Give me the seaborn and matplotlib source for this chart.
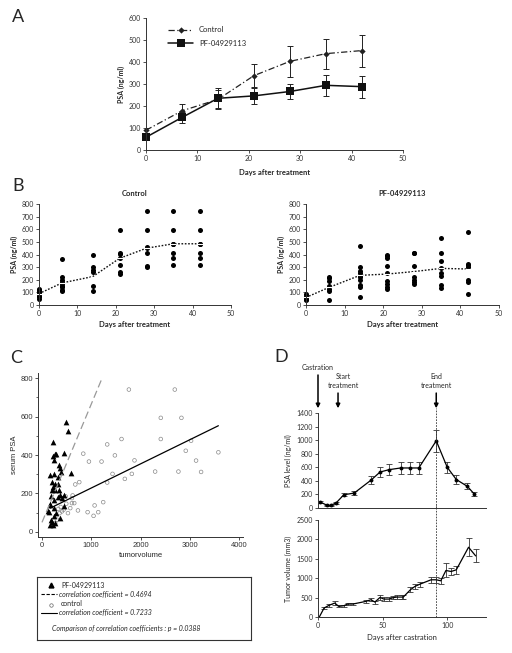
import numpy as np
import pandas as pd
import matplotlib
matplotlib.use("Agg")
import matplotlib.pyplot as plt
import seaborn as sns

sns.set_theme(style="white")
plt.rcParams["font.family"] = ["Lato", "DejaVu Sans"]

W, H = 512, 653

# ---------------- data ----------------
# A: mean PSA +/- SEM
DAYS_A = [0, 7, 14, 21, 28, 35, 42]
CTRL_MEAN = [90, 178, 230, 338, 403, 438, 452]
CTRL_ERR = [12, 30, 45, 52, 72, 68, 73]
PF_MEAN = [58, 148, 235, 246, 266, 294, 288]
PF_ERR = [12, 25, 45, 38, 35, 47, 50]

# B: individual PSA values
DAYS_B = [0, 6, 14, 21, 28, 35, 42]
CTRL_PTS = [
    [130, 120, 110, 100, 95, 85, 75, 60, 45],
    [365, 225, 200, 185, 170, 150, 140, 120, 110],
    [400, 300, 280, 260, 150, 110],
    [595, 415, 405, 370, 315, 260, 245],
    [745, 595, 460, 450, 415, 310, 300],
    [745, 595, 485, 480, 415, 370, 315],
    [745, 595, 485, 480, 415, 370, 315],
]
CTRL_TREND = [90, 175, 225, 370, 450, 485, 485]
PF_PTS = [
    [85, 70, 65, 55, 50, 45, 40],
    [220, 210, 190, 150, 130, 110, 40],
    [470, 300, 270, 250, 230, 220, 200, 155, 145, 65],
    [400, 385, 370, 310, 255, 190, 165, 140, 125],
    [415, 410, 305, 225, 200, 180, 165],
    [530, 410, 350, 290, 250, 230, 160, 135],
    [575, 325, 315, 300, 195, 185, 90],
]
PF_TREND = [60, 140, 235, 245, 265, 290, 285]

# C: tumour volume vs serum PSA
PF_VOL = [480, 520, 216, 439, 230, 257, 291, 250, 345, 372, 385, 581, 155, 236,
          318, 203, 257, 318, 216, 263, 203, 338, 358, 182, 439, 405, 318, 236,
          169, 155, 439, 236, 122, 135, 291, 372, 236, 203, 169, 216, 263, 189]
PF_PSA = [569, 526, 469, 409, 397, 403, 405, 374, 348, 331, 314, 305, 297, 300,
          288, 262, 250, 248, 236, 219, 216, 219, 190, 188, 193, 176, 184, 167,
          147, 138, 133, 124, 110, 102, 98, 72, 81, 50, 38, 38, 47, 64]
CTRL_VOL = [1764, 2696, 2412, 2831, 1615, 2412, 1324, 2919, 3027, 3581, 838,
            1480, 953, 1209, 1878, 3128, 2770, 2297, 3230, 1824, 1432, 1682,
            1324, 757, 676, 622, 1243, 1068, 1142, 926, 1047, 730, 574, 608,
            655, 493, 439, 527, 358, 405, 304, 270, 480, 608, 380, 330]
CTRL_PSA = [740, 740, 593, 593, 483, 483, 455, 422, 474, 414, 407, 398, 366,
            366, 372, 371, 314, 314, 312, 302, 302, 276, 257, 259, 247, 190,
            155, 138, 103, 103, 84, 112, 124, 150, 150, 147, 116, 98, 98, 107,
            64, 47, 185, 176, 130, 120]
FIT_PF = (0.614, 50, 0, 1216)      # slope, intercept, x from, x to
FIT_CTRL = (0.1254, 103, 169, 3581)

# D: time course after castration
DAYS_PSA = [1.5, 7, 10, 14, 20, 28, 41, 48, 55, 64, 71, 78, 91.5, 100, 107, 115.5, 121]
PSA_D = [90, 40, 40, 75, 195, 220, 410, 530, 565, 590, 590, 590, 990, 600, 420, 320, 205]
PSA_D_ERR = [10, 8, 8, 10, 25, 30, 55, 70, 80, 85, 90, 85, 160, 85, 60, 45, 25]
DAYS_VOL = [1, 4.7, 8.5, 13, 16, 20, 23, 27, 37, 41, 44, 48, 51, 55, 58, 61, 65,
            66, 71.5, 75, 79, 87.5, 91.5, 95, 99, 103, 107, 116.5, 122]
VOL_D = [0, 231, 300, 360, 274, 291, 334, 334, 402, 445, 385, 505, 462, 462,
         497, 514, 514, 514, 702, 788, 848, 959, 959, 933, 1199, 1173, 1216,
         1798, 1575]
VOL_D_ERR = [0, 20, 30, 40, 25, 25, 30, 30, 35, 40, 40, 55, 45, 45, 40, 45, 45,
             45, 60, 65, 65, 70, 70, 70, 180, 100, 100, 230, 170]
EVENTS = [(0, "Castration"), (15.5, "Start\ntreatment"), (91.5, "End\ntreatment")]


def px_axes(x0, y0, x1, y1):
    return fig.add_axes([x0 / W, 1 - y1 / H, (x1 - x0) / W, (y1 - y0) / H])


def excel_style(ax, size=5):
    sns.despine(ax=ax)
    for s in ["left", "bottom"]:
        ax.spines[s].set_color("#333333")
        ax.spines[s].set_linewidth(0.7)
    ax.tick_params(bottom=True, left=True, direction="out", length=2,
                   width=0.6, labelsize=size, pad=1.5, colors="#333333")


fig = plt.figure(figsize=(W / 100, H / 100), dpi=100)

# ---------------- A ----------------
ax = px_axes(146, 18, 403, 150)
dfa = pd.DataFrame({"day": DAYS_A, "ctrl": CTRL_MEAN, "pf": PF_MEAN})
ax.errorbar(DAYS_A, CTRL_MEAN, yerr=CTRL_ERR, fmt="none", ecolor="#222",
            elinewidth=0.7, capsize=2, capthick=0.7)
ax.errorbar(DAYS_A, PF_MEAN, yerr=PF_ERR, fmt="none", ecolor="#222",
            elinewidth=0.7, capsize=2, capthick=0.7)
sns.lineplot(data=dfa, x="day", y="ctrl", ax=ax, color="#222", lw=0.9,
             linestyle=(0, (5, 2, 1, 2)), marker="D", markersize=3.2,
             markeredgewidth=0, label="Control", clip_on=False)
sns.lineplot(data=dfa, x="day", y="pf", ax=ax, color="#111", lw=1.1,
             marker="s", markersize=5.5, markeredgewidth=0, label="PF-04929113",
             clip_on=False)
ax.set_xlim(0, 50)
ax.set_ylim(0, 600)
ax.set_xticks(range(0, 51, 10))
ax.set_yticks(range(0, 601, 100))
ax.set_xlabel("Days after treatment", fontsize=5.5, fontweight="bold", labelpad=5)
ax.set_ylabel("PSA (ng/ml)", fontsize=5, fontweight="bold", labelpad=3)
excel_style(ax)
ax.legend(loc="upper left", bbox_to_anchor=(0.06, 0.99), frameon=False,
          fontsize=5.5, handlelength=3.2, labelspacing=0.9)
fig.text(12 / W, 1 - 17 / H, "A", fontsize=13, va="center")

# ---------------- B ----------------
for (x0, x1), title, pts, trend in [((39, 231), "Control", CTRL_PTS, CTRL_TREND),
                                    ((306, 499), "PF-04929113", PF_PTS, PF_TREND)]:
    ax = px_axes(x0, 204, x1, 305)
    dfb = pd.DataFrame([(d, v) for d, vals in zip(DAYS_B, pts) for v in vals],
                       columns=["day", "psa"])
    sns.scatterplot(data=dfb, x="day", y="psa", ax=ax, color="black", s=13,
                    linewidth=0, clip_on=False)
    sns.lineplot(x=DAYS_B, y=trend, ax=ax, color="#111", lw=1.0,
                 linestyle=(0, (1.2, 1.2)), marker="_", markersize=5,
                 markeredgewidth=0.8, clip_on=False)
    ax.set_xlim(0, 50)
    ax.set_ylim(0, 800)
    ax.set_xticks(range(0, 51, 10))
    ax.set_yticks(range(0, 801, 100))
    ax.set_title(title, fontsize=5.5, fontweight="bold", pad=6)
    ax.set_xlabel("Days after treatment", fontsize=5.5, fontweight="bold", labelpad=3)
    ax.set_ylabel("PSA (ng/ml)", fontsize=5, fontweight="bold", labelpad=3)
    excel_style(ax)
fig.text(12 / W, 1 - 186 / H, "B", fontsize=13, va="center")

# ---------------- C ----------------
ax = px_axes(38, 373, 243, 537)
sns.scatterplot(x=CTRL_VOL, y=CTRL_PSA, ax=ax, marker="o", s=7,
                fc="none", ec="#8a8a8a", linewidth=0.5)
sns.scatterplot(x=PF_VOL, y=PF_PSA, ax=ax, marker="^", s=17, color="black",
                linewidth=0)
for (slope, icpt, xa, xb), ls, col in [(FIT_PF, (0, (6, 3)), "#999999"),
                                       (FIT_CTRL, "-", "black")]:
    xs = np.array([xa, xb])
    ax.plot(xs, slope * xs + icpt, ls=ls, color=col, lw=0.9)
ax.set_xlim(-81, 4081)
ax.set_ylim(-26, 826)
ax.set_xticks(range(0, 4001, 1000))
ax.set_yticks(range(0, 801, 200))
ax.set_yticks(range(100, 800, 200), minor=True)
ax.set_xlabel("tumorvolume", fontsize=5.5, family="Liberation Sans", labelpad=2)
ax.set_ylabel("serum PSA", fontsize=5.5, family="Liberation Sans", labelpad=2)
excel_style(ax, size=5.5)
ax.tick_params(which="minor", left=True, length=1.5, width=0.5)
for lab in ax.get_xticklabels() + ax.get_yticklabels():
    lab.set_family("Liberation Sans")
fig.text(10 / W, 1 - 358 / H, "C", fontsize=13, va="center")

# legend box for C
lg = px_axes(37, 577, 251, 640)
lg.set_xlim(37, 251)
lg.set_ylim(640, 577)
lg.set_xticks([])
lg.set_yticks([])
for s in lg.spines.values():
    s.set_linewidth(0.8)
    s.set_color("#333")
lg.plot([51], [585], marker="^", color="black", ms=3.5)
lg.text(61, 585, "PF-04929113", fontsize=5, va="center")
lg.plot([41, 57], [594, 594], ls=(0, (3, 1.5)), color="black", lw=0.8)
lg.text(59, 594, "correlation coefficient = 0.4694", fontsize=5, va="center",
        style="italic")
lg.plot([51], [605], marker="o", mfc="none", mec="#666", ms=2.5, mew=0.5)
lg.text(61, 603, "control", fontsize=5, va="center")
lg.plot([41, 57], [613, 613], color="black", lw=0.8)
lg.text(59, 612, "correlation coefficient = 0.7233", fontsize=5, va="center",
        style="italic")
lg.text(52, 629, "Comparison of correlation coefficients : p = 0.0388",
        fontsize=5, va="center", style="italic")

# ---------------- D ----------------
ax1 = px_axes(318, 413, 486, 508)
ax2 = px_axes(318, 520, 486, 617)
ax1.errorbar(DAYS_PSA, PSA_D, yerr=PSA_D_ERR, fmt="none", ecolor="#333",
             elinewidth=0.6, capsize=2, capthick=0.6)
sns.lineplot(x=DAYS_PSA, y=PSA_D, ax=ax1, color="black", lw=0.9, marker="o",
             markersize=2.8, markeredgewidth=0)
ax2.errorbar(DAYS_VOL, VOL_D, yerr=VOL_D_ERR, fmt="none", ecolor="#333",
             elinewidth=0.6, capsize=2, capthick=0.6)
sns.lineplot(x=DAYS_VOL, y=VOL_D, ax=ax2, color="black", lw=0.9)
for a in (ax1, ax2):
    a.set_xlim(0, 130)
    a.axvline(EVENTS[2][0], color="#333", lw=0.6, ls=(0, (2, 1.5)),
              ymin=0, ymax=1.05 if a is ax1 else 1.15, clip_on=False)
    excel_style(a)
ax1.set_ylim(0, 1400)
ax1.set_yticks(range(0, 1401, 200))
ax1.set_xticks([])
ax1.set_ylabel("PSA level (ng/ml)", fontsize=5, labelpad=3)
ax2.set_ylim(0, 2500)
ax2.set_yticks(range(0, 2501, 500))
ax2.set_xticks([0, 50, 100])
ax2.set_ylabel("Tumor volume (mm3)", fontsize=5, labelpad=3)
ax2.set_xlabel("Days after castration", fontsize=5.5, labelpad=4)

tr = ax1.get_xaxis_transform()
for day, label in EVENTS:
    tail = 1.4 if label == "Castration" else 1.21
    ax1.annotate("", xy=(day, 1.05), xycoords=tr, xytext=(day, tail),
                 textcoords=tr, annotation_clip=False,
                 arrowprops=dict(arrowstyle="-|>", color="black", lw=1.1,
                                 mutation_scale=6, shrinkA=0, shrinkB=0))
    tx = day + 4 if label.startswith("Start") else day
    ax1.text(tx, tail + 0.04, label, transform=tr, ha="center", va="bottom",
             fontsize=5, linespacing=1.3)
fig.text(274 / W, 1 - 357 / H, "D", fontsize=13, va="center")

fig.savefig("out.png", dpi=100, facecolor="white")
